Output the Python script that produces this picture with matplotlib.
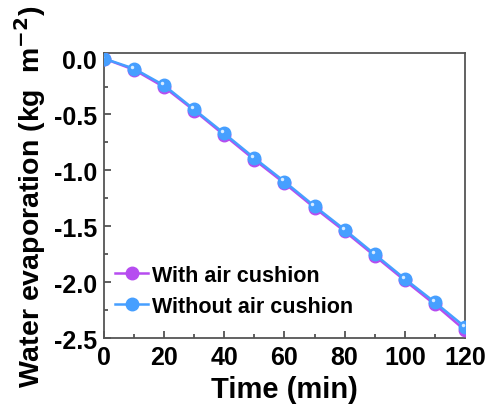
import numpy as np
import matplotlib.pyplot as plt
from matplotlib.transforms import offset_copy

plt.rcParams['font.family'] = ['Liberation Sans', 'DejaVu Sans']
plt.rcParams['font.weight'] = 'bold'
plt.rcParams['mathtext.default'] = 'bf'
plt.rcParams['axes.unicode_minus'] = False

# data
time = [0, 10, 20, 30, 40, 50, 60, 70, 80, 90, 100, 110, 120]
with_cushion = [0.0, -0.10, -0.255, -0.465, -0.685, -0.905, -1.115, -1.335, -1.545, -1.765, -1.985, -2.20, -2.43]
without_cushion = [0.0, -0.09, -0.24, -0.455, -0.67, -0.89, -1.10, -1.32, -1.53, -1.75, -1.97, -2.18, -2.40]

purple = '#b64cf0'
blue = '#469fff'

fig = plt.figure(figsize=(4.93, 4.06), dpi=100)
ax = fig.add_axes([0.211, 0.165, 0.732, 0.702])

ax.plot(time, with_cushion, '-o', color=purple, lw=1.8, ms=9,
        mfc=purple, mec=purple, label='With air cushion', zorder=3)
ax.plot(time, without_cushion, '-o', color=blue, lw=1.8, ms=9,
        mfc=blue, mec=blue, label='Without air cushion', zorder=4)

# little highlights on the spheres
hl = offset_copy(ax.transData, fig=fig, x=-1.5, y=1.5, units='points')
ax.plot(time, without_cushion, 'o', color='#d8ecff', ms=2.5, mew=0,
        transform=hl, zorder=5)

ax.set_xlim(0, 120)
ax.set_ylim(-2.5, 0.05)
ax.set_xticks(np.arange(0, 121, 20))
ax.set_xticks(np.arange(0, 121, 10), minor=True)
ax.set_yticks([0.0, -0.5, -1.0, -1.5, -2.0, -2.5])
ax.set_yticks(np.arange(-2.5, 0.01, 0.25), minor=True)
ax.tick_params(which='both', direction='in', top=False, right=False,
               labelsize=18, width=1.2, color='#444444')
ax.tick_params(which='major', length=5, pad=5)
ax.tick_params(which='minor', length=3)
for s in ax.spines.values():
    s.set_color('#555555')
    s.set_linewidth(1.3)

ax.set_xlabel('Time (min)', fontsize=21, fontweight='bold', labelpad=4)
ax.set_ylabel('Water evaporation (kg  m$^{-2}$)', fontsize=20.5,
              fontweight='bold', labelpad=4)

ax.legend(loc='lower left', bbox_to_anchor=(-0.01, 0.022), frameon=False,
          fontsize=15.5, handlelength=1.5, handletextpad=0.2,
          labelspacing=0.45, borderaxespad=0.3)

fig.savefig('out.png', dpi=100)
